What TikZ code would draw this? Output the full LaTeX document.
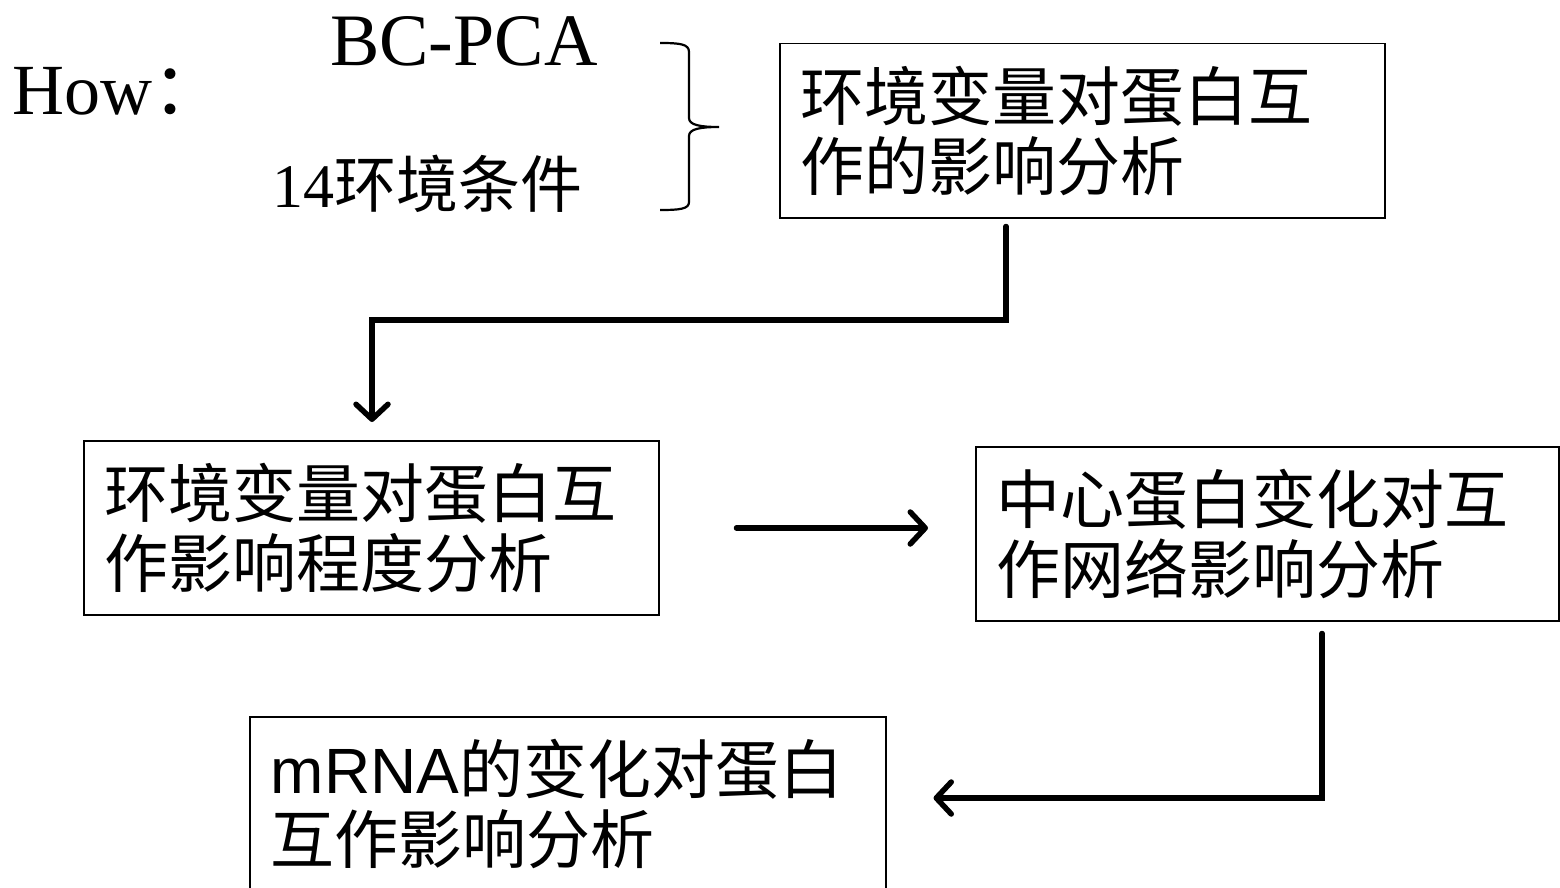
\documentclass[tikz,border=0pt]{standalone}
\usepackage{fontspec}
\setmainfont{Liberation Serif}
\newfontfamily\cjk{Noto Sans CJK SC}
\newfontfamily\arialf{Liberation Sans}
\usetikzlibrary{arrows.meta}
\begin{document}
\begin{tikzpicture}[x=1pt,y=-1pt,
  box/.style={draw, line width=1.5pt, minimum height=174pt, inner xsep=21pt, inner ysep=0pt,
    align=left, anchor=north west, font=\fontsize{64}{70}\selectfont\cjk},
  conn/.style={line width=5.5pt, line cap=round,
    -{Straight Barb[length=15pt,width=32pt,line join=round,line cap=round]}},
  lbl/.style={anchor=base west, inner sep=0pt},
  bracepath/.style={line width=2.2pt}
]
\useasboundingbox (0,0) rectangle (1560,888);
% labels
\node[lbl, font=\fontsize{72}{72}\selectfont] (how) at (12,115) {How{\cjk ：}};
\node[lbl, font=\fontsize{74}{74}\selectfont] (bc) at (330,66) {BC-PCA};
\node[lbl, font=\fontsize{62}{62}\selectfont] (env) at (272,207) {14{\cjk 环境条件}};
% brace
\draw[bracepath] (660,43) .. controls (680,43) and (689,44) .. (689,52) -- (689,118)
  .. controls (689,125) and (700,127) .. (719,127)
  .. controls (700,127) and (689,129) .. (689,136) -- (689,202)
  .. controls (689,209) and (680,210) .. (660,210);
% boxes
\node[box, text width=563pt] (b1) at (779,43) {环境变量对蛋白互\\作的影响分析};
\node[box, text width=533pt] (b2) at (83,440) {环境变量对蛋白互\\作影响程度分析};
\node[box, text width=541pt] (b3) at (975,446) {中心蛋白变化对互\\作网络影响分析};
\node[box, text width=594pt] (b4) at (249,716) {{\arialf mRNA}的变化对蛋白\\互作影响分析};
% helper coordinates
\coordinate (x1) at (1006,0);
\coordinate (m1) at (372,320);
\coordinate (m2) at (0,528);
\coordinate (x3) at (1322,0);
\coordinate (m3) at (0,798);
% connectors
\draw[conn, shorten <=8pt, shorten >=18pt] (b1.south -| x1) |- (m1) -- (b2.north -| m1);
\draw[conn, shorten <=77pt, shorten >=47pt] (b2.east |- m2) -- (b3.west |- m2);
\draw[conn, shorten <=12pt, shorten >=47pt] (b3.south -| x3) |- (b4.east |- m3);
\end{tikzpicture}
\end{document}
